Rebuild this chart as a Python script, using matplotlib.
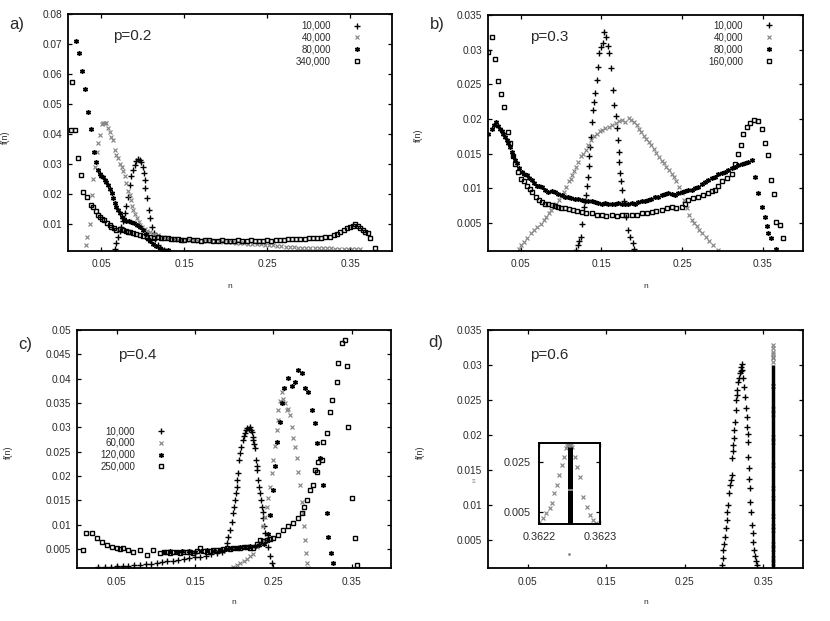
import matplotlib
matplotlib.use("Agg")
import matplotlib.pyplot as plt

plt.rcParams['font.family'] = ['Liberation Sans', 'DejaVu Sans']

# ---------------- data ----------------
x_tick_vals = [0.05, 0.15, 0.25, 0.35]
x_tick_labels = ["0.05", "0.15", "0.25", "0.35"]

# panel a (p=0.2)
a_labels = ["10,000", "40,000", "80,000", "340,000"]
a_yticks = [0.01, 0.02, 0.03, 0.04, 0.05, 0.06, 0.07, 0.08]
a_ylabels = ["0.01", "0.02", "0.03", "0.04", "0.05", "0.06", "0.07", "0.08"]
a_s1 = [(0.066,0.0015),(0.068,0.0035),(0.070,0.0057),(0.072,0.0075),(0.074,0.009),(0.076,0.011),
        (0.078,0.0136),(0.080,0.016),(0.082,0.019),(0.084,0.023),(0.086,0.026),(0.088,0.028),
        (0.090,0.0295),(0.092,0.031),(0.094,0.0318),(0.096,0.0312),(0.098,0.0305),(0.100,0.029),
        (0.101,0.027),(0.102,0.0245),(0.103,0.022),(0.105,0.0185),(0.107,0.0146),(0.109,0.0118),
        (0.111,0.009),(0.113,0.0068),(0.115,0.005),(0.118,0.003),(0.121,0.0018),(0.125,0.0011)]
a_s2 = [(0.0313,0.0029),(0.033,0.0055),(0.0362,0.0099),(0.0382,0.0196),(0.040,0.025),(0.0422,0.029),
        (0.0443,0.034),(0.046,0.037),(0.048,0.0397),(0.0507,0.0435),(0.052,0.0438),(0.054,0.0436),
        (0.0557,0.0436),(0.058,0.042),(0.0603,0.0408),(0.062,0.039),(0.0643,0.038),(0.0663,0.0347),
        (0.068,0.033),(0.070,0.032),(0.072,0.030),(0.0744,0.029),(0.076,0.0275),(0.078,0.026),
        (0.080,0.0235),(0.082,0.021),(0.084,0.0195),(0.0856,0.018),(0.087,0.016),(0.0884,0.0146),
        (0.090,0.0133),(0.0925,0.012),(0.095,0.0105),(0.0965,0.0096),(0.099,0.0088),(0.102,0.0082),
        (0.1046,0.0077),(0.108,0.0072),(0.113,0.0067),(0.118,0.0062),(0.1246,0.0057),(0.130,0.0052),
        (0.137,0.0048),(0.142,0.0047),(0.147,0.0047),(0.152,0.0046),(0.157,0.0045),(0.162,0.0045),
        (0.167,0.0044),(0.172,0.0043),(0.177,0.0043),(0.182,0.0042),(0.187,0.0041),(0.192,0.0041),
        (0.197,0.0040),(0.202,0.0039),(0.207,0.0038),(0.212,0.0037),(0.217,0.0036),(0.222,0.0035),
        (0.227,0.0034),(0.232,0.0033),(0.237,0.0032),(0.242,0.0031),(0.247,0.0030),(0.252,0.0029),
        (0.257,0.0028),(0.262,0.0026),(0.267,0.0025),(0.272,0.0023),(0.277,0.0022),(0.282,0.0021),
        (0.287,0.0020),(0.292,0.0020),(0.297,0.0019),(0.302,0.0019),(0.307,0.0019),(0.312,0.0018),
        (0.317,0.0018),(0.322,0.0018),(0.327,0.0018),(0.332,0.0017),(0.337,0.0017),(0.342,0.0017),
        (0.347,0.0017),(0.352,0.0016),(0.357,0.0016),(0.362,0.0016)]
a_s3 = [(0.0193,0.0712),(0.023,0.067),(0.026,0.061),(0.030,0.055),(0.0334,0.0473),(0.0374,0.0416),
        (0.0414,0.0341),(0.044,0.0307),(0.046,0.028),(0.048,0.0265),(0.050,0.026),(0.052,0.0255),
        (0.0543,0.0246),(0.056,0.0238),(0.0583,0.023),(0.060,0.0215),(0.0623,0.0202),(0.064,0.0185),
        (0.0663,0.0168),(0.068,0.0157),(0.070,0.0146),(0.072,0.0135),(0.0744,0.0123),(0.077,0.0115),
        (0.080,0.0108),(0.083,0.0108),(0.086,0.0106),(0.089,0.0101),(0.0925,0.0096),(0.096,0.0088),
        (0.1005,0.008),(0.104,0.0065),(0.1066,0.005),(0.109,0.0042),(0.112,0.0034),(0.116,0.0025),
        (0.120,0.0018),(0.125,0.0013),(0.130,0.0011)]
a_s4 = [(0.0133,0.0413),(0.0141,0.0575),(0.018,0.0413),(0.022,0.0319),(0.0253,0.0263),(0.028,0.0207),
        (0.032,0.019),(0.037,0.0163),(0.040,0.0155),(0.043,0.0144),(0.046,0.013),(0.048,0.0122),
        (0.051,0.0117),(0.053,0.0113),(0.057,0.0104),(0.060,0.0097),(0.062,0.009),(0.065,0.0085),
        (0.068,0.0079),(0.072,0.0081),(0.076,0.0079),(0.079,0.0076),(0.082,0.0074),(0.085,0.0071),
        (0.088,0.0068),(0.092,0.0065),(0.096,0.0062),(0.100,0.006),(0.105,0.0057),(0.109,0.0056),
        (0.113,0.0054),(0.118,0.0055),(0.122,0.0052),(0.126,0.0051),(0.130,0.0053),(0.134,0.0049),
        (0.138,0.0048),(0.142,0.0050),(0.146,0.0047),(0.150,0.0046),(0.155,0.0048),(0.160,0.0045),
        (0.165,0.0046),(0.170,0.0044),(0.175,0.0046),(0.180,0.0045),(0.185,0.0043),(0.190,0.0044),
        (0.195,0.0045),(0.200,0.0043),(0.205,0.0044),(0.210,0.0042),(0.215,0.0045),(0.220,0.0044),
        (0.225,0.0043),(0.230,0.0045),(0.235,0.0042),(0.240,0.0044),(0.245,0.0043),(0.250,0.0045),
        (0.255,0.0044),(0.260,0.0046),(0.265,0.0045),(0.270,0.0047),(0.275,0.0050),(0.280,0.0049),
        (0.285,0.0048),(0.290,0.0050),(0.295,0.0049),(0.300,0.0051),(0.305,0.0052),(0.310,0.0051),
        (0.315,0.0054),(0.320,0.0055),(0.325,0.0057),(0.330,0.0062),(0.334,0.0066),(0.338,0.0072),
        (0.342,0.0079),(0.346,0.0085),(0.350,0.0090),(0.353,0.0094),(0.356,0.0099),(0.359,0.0093),
        (0.362,0.0087),(0.365,0.0080),(0.368,0.0074),(0.371,0.0068),(0.374,0.0051),(0.380,0.0018)]

# panel b (p=0.3)
b_labels = ["10,000", "40,000", "80,000", "160,000"]
b_yticks = [0.005, 0.01, 0.015, 0.02, 0.025, 0.03, 0.035]
b_ylabels = ["0.005", "0.01", "0.015", "0.02", "0.025", "0.03", "0.035"]
b_s1 = [(0.1186,0.0011),(0.121,0.0018),(0.1228,0.0024),(0.1248,0.003),(0.1265,0.0048),(0.1281,0.0073),
        (0.1296,0.0082),(0.131,0.009),(0.1321,0.0104),(0.1331,0.0117),(0.1341,0.0132),(0.1351,0.0146),
        (0.1362,0.016),(0.1372,0.0174),(0.1386,0.0195),(0.14,0.0213),(0.1412,0.0225),(0.1425,0.0238),
        (0.1446,0.0256),(0.146,0.0275),(0.1474,0.0295),(0.1495,0.0304),(0.1516,0.0309),(0.1536,0.0326),
        (0.1556,0.0318),(0.1578,0.0305),(0.1598,0.0295),(0.1619,0.0273),(0.164,0.0242),(0.166,0.022),
        (0.1675,0.0205),(0.169,0.0187),(0.1702,0.017),(0.1714,0.0153),(0.1724,0.0138),(0.1734,0.0122),
        (0.1745,0.011),(0.1755,0.0098),(0.1784,0.0081),(0.1805,0.0059),(0.1826,0.004),(0.1854,0.003),
        (0.1888,0.0021),(0.1905,0.0012)]
b_s2 = [(0.0478,0.0013),(0.051,0.0018),(0.054,0.0023),(0.058,0.0029),(0.0623,0.0035),(0.066,0.004),
        (0.0705,0.0044),(0.075,0.0049),(0.0788,0.0054),(0.082,0.0059),(0.085,0.0064),(0.088,0.0068),
        (0.0912,0.0073),(0.094,0.0078),(0.0975,0.0083),(0.1005,0.0089),(0.1037,0.0095),(0.1068,0.0102),
        (0.1099,0.011),(0.112,0.0114),(0.114,0.0119),(0.116,0.0125),(0.1181,0.0131),(0.121,0.0138),
        (0.1243,0.0146),(0.1275,0.015),(0.1305,0.0155),(0.1335,0.0162),(0.1367,0.017),(0.1405,0.0175),
        (0.1449,0.0179),(0.148,0.0182),(0.1511,0.0184),(0.155,0.0187),(0.1594,0.0189),(0.1635,0.0192),
        (0.1677,0.0194),(0.1715,0.0197),(0.175,0.0199),(0.1795,0.0196),(0.1841,0.0201),(0.187,0.0199),
        (0.1903,0.0196),(0.1935,0.0191),(0.1965,0.0186),(0.1995,0.0181),(0.2027,0.0176),(0.2058,0.0171),
        (0.2089,0.0167),(0.212,0.0162),(0.2151,0.0157),(0.2182,0.0151),(0.2213,0.0145),(0.2245,0.014),
        (0.2275,0.0136),(0.2305,0.0131),(0.2338,0.0126),(0.237,0.0121),(0.24,0.0117),(0.243,0.011),
        (0.2462,0.0102),(0.2493,0.0093),(0.2524,0.0083),(0.2555,0.0072),(0.2586,0.0061),(0.2617,0.0055),
        (0.2648,0.005),(0.268,0.0045),(0.2711,0.004),(0.275,0.0035),(0.2793,0.003),(0.2835,0.0024),
        (0.2876,0.0018),(0.2938,0.0011)]
b_s3 = [(0.0102,0.0179),(0.0141,0.0186),(0.017,0.0191),(0.0195,0.0195),(0.022,0.019),(0.0244,0.0186),
        (0.0265,0.0182),(0.0286,0.0179),(0.0306,0.0174),(0.0327,0.0169),(0.0348,0.0165),(0.0368,0.016),
        (0.039,0.0153),(0.041,0.0146),(0.043,0.0141),(0.0451,0.0136),(0.048,0.013),(0.0513,0.0124),
        (0.0545,0.0121),(0.0575,0.0119),(0.0605,0.0115),(0.0637,0.0112),(0.0668,0.0108),(0.0699,0.0104),
        (0.073,0.0103),(0.0761,0.0102),(0.08,0.0098),(0.0843,0.0095),(0.0885,0.0096),(0.0926,0.0095),
        (0.0965,0.0092),(0.1008,0.009),(0.105,0.0088),(0.109,0.0088),(0.113,0.0086),(0.1173,0.0085),
        (0.1215,0.0084),(0.1255,0.0083),(0.13,0.0082),(0.1338,0.0081),(0.1379,0.0081),(0.142,0.008),
        (0.146,0.0079),(0.1503,0.0078),(0.1545,0.0079),(0.1585,0.0078),(0.1627,0.0077),(0.167,0.0078),
        (0.171,0.0079),(0.175,0.0078),(0.179,0.0077),(0.1832,0.0078),(0.1874,0.0079),(0.1915,0.0078),
        (0.1955,0.008),(0.1998,0.0081),(0.204,0.0082),(0.208,0.0083),(0.212,0.0085),(0.2162,0.0087),
        (0.2204,0.0088),(0.2245,0.009),(0.2288,0.0092),(0.2328,0.0093),(0.237,0.0092),(0.241,0.0091),
        (0.245,0.0093),(0.2493,0.0095),(0.2535,0.0096),(0.2575,0.0098),(0.2617,0.0098),(0.2658,0.01),
        (0.2699,0.0102),(0.274,0.0106),(0.2782,0.0109),(0.2823,0.0112),(0.2865,0.0115),(0.2906,0.0117),
        (0.2947,0.012),(0.2988,0.0122),(0.3029,0.0124),(0.307,0.0127),(0.3112,0.0129),(0.3153,0.0131),
        (0.3195,0.0133),(0.3236,0.0135),(0.3277,0.0136),(0.3318,0.0138),(0.336,0.0141),(0.3401,0.0117),
        (0.3441,0.0093),(0.3483,0.0073),(0.3524,0.0059),(0.3545,0.0045),(0.3565,0.0035),(0.3606,0.0028),
        (0.3668,0.0013)]
b_s4 = [(0.01,0.0297),(0.0141,0.0318),(0.0182,0.0287),(0.0223,0.0255),(0.0256,0.0236),(0.0297,0.0218),
        (0.0339,0.0181),(0.0368,0.0166),(0.04,0.0147),(0.0429,0.0135),(0.047,0.0123),(0.0499,0.0114),
        (0.0545,0.0111),(0.058,0.0104),(0.0615,0.0099),(0.0644,0.0094),(0.069,0.0088),(0.0731,0.0083),
        (0.077,0.008),(0.08,0.0078),(0.084,0.0077),(0.0883,0.0076),(0.0925,0.0074),(0.0966,0.0073),
        (0.1005,0.0072),(0.1048,0.0071),(0.11,0.007),(0.1152,0.0069),(0.12,0.0067),(0.1255,0.0066),
        (0.131,0.0065),(0.1379,0.0064),(0.144,0.0062),(0.1503,0.0061),(0.156,0.006),(0.1627,0.0061),
        (0.169,0.006),(0.175,0.0061),(0.181,0.0062),(0.1874,0.0061),(0.1935,0.0062),(0.1998,0.0064),
        (0.206,0.0065),(0.2122,0.0066),(0.218,0.0067),(0.2245,0.0069),(0.231,0.0071),(0.2369,0.0073),
        (0.243,0.0072),(0.2493,0.0073),(0.2535,0.0078),(0.2575,0.0083),(0.2635,0.0086),(0.2699,0.0088),
        (0.276,0.0091),(0.2823,0.0093),(0.2865,0.0096),(0.2906,0.0098),(0.2947,0.0104),(0.2988,0.0111),
        (0.305,0.0115),(0.3112,0.012),(0.3155,0.0135),(0.3194,0.0149),(0.3225,0.0163),(0.3256,0.0178),
        (0.3298,0.0188),(0.3338,0.0194),(0.3392,0.0199),(0.3441,0.0197),(0.3483,0.0185),(0.3525,0.0165),
        (0.3565,0.0148),(0.3598,0.0112),(0.3635,0.0092),(0.3668,0.0052),(0.3709,0.0047),(0.375,0.0029)]

# panel c (p=0.4)
c_labels = ["10,000", "60,000", "120,000", "250,000"]
c_yticks = [0.005, 0.01, 0.015, 0.02, 0.025, 0.03, 0.035, 0.04, 0.045, 0.05]
c_ylabels = ["0.005", "0.01", "0.015", "0.02", "0.025", "0.03", "0.035", "0.04", "0.045", "0.05"]
c_s1 = [(0.027,0.0012),(0.035,0.0013),(0.043,0.0013),(0.050,0.0014),(0.058,0.0014),(0.065,0.0015),
        (0.072,0.0016),(0.080,0.0017),(0.087,0.0018),(0.094,0.0019),(0.101,0.0021),(0.108,0.0022),
        (0.115,0.0024),(0.122,0.0026),(0.129,0.0028),(0.136,0.0030),(0.143,0.0032),(0.150,0.0033),
        (0.157,0.0034),(0.164,0.0036),(0.171,0.0039),(0.178,0.0042),(0.184,0.0044),
        (0.187,0.0048),(0.1905,0.0061),(0.1925,0.0075),(0.1947,0.0089),(0.1968,0.0105),(0.1989,0.0123),
        (0.2,0.0137),(0.2011,0.015),(0.2022,0.0165),(0.2032,0.0178),(0.204,0.0192),(0.2048,0.0205),
        (0.2066,0.0233),(0.2075,0.0248),(0.2083,0.026),(0.2109,0.0274),(0.2125,0.0282),(0.2138,0.0288),
        (0.2155,0.0294),(0.2168,0.0298),(0.2185,0.0296),(0.2202,0.0301),(0.2215,0.0295),(0.2224,0.0291),
        (0.2235,0.028),(0.2244,0.0274),(0.2255,0.0265),(0.2266,0.0257),(0.2279,0.0233),(0.2288,0.022),
        (0.2295,0.0212),(0.2308,0.0192),(0.232,0.0178),(0.233,0.0164),(0.2341,0.015),(0.2351,0.0137),
        (0.2362,0.0125),(0.2372,0.0113),(0.2383,0.0097),(0.2394,0.0082),(0.2415,0.0068),(0.2435,0.0054),
        (0.2455,0.0035),(0.2479,0.002)]
c_s2 = [(0.199,0.0013),(0.2035,0.0016),(0.2075,0.002),(0.212,0.0025),(0.216,0.003),(0.2205,0.0035),
        (0.2244,0.004),(0.2287,0.0054),(0.2329,0.0062),(0.2351,0.0069),(0.2372,0.0096),(0.2393,0.0115),
        (0.2415,0.0137),(0.2436,0.0155),(0.2457,0.0178),(0.2478,0.0205),(0.2499,0.0233),(0.252,0.0262),
        (0.2542,0.0294),(0.2553,0.0315),(0.2563,0.0336),(0.2585,0.0355),(0.2606,0.0373),(0.2627,0.0359),
        (0.2648,0.0350),(0.267,0.0336),(0.2691,0.0338),(0.2712,0.0325),(0.2733,0.0301),(0.2754,0.0277),
        (0.2776,0.026),(0.2797,0.0236),(0.2818,0.0209),(0.284,0.0181),(0.2861,0.0147),(0.2882,0.0123),
        (0.289,0.0096),(0.2903,0.0068),(0.2916,0.0041),(0.2933,0.0021),(0.2946,0.0011)]
c_s3 = [(0.11,0.0044),(0.118,0.0045),(0.126,0.0043),(0.134,0.0045),(0.142,0.0046),(0.150,0.0044),
        (0.158,0.0046),(0.166,0.0047),(0.174,0.0046),(0.182,0.0048),(0.19,0.005),(0.196,0.0051),
        (0.202,0.0052),(0.208,0.0053),(0.214,0.0054),(0.22,0.0055),(0.226,0.0056),(0.232,0.0058),
        (0.238,0.006),(0.243,0.008),(0.246,0.012),(0.249,0.017),(0.252,0.022),(0.255,0.027),
        (0.258,0.031),(0.261,0.035),(0.264,0.038),(0.269,0.0401),(0.2733,0.0385),(0.2776,0.0394),
        (0.2818,0.0418),(0.2861,0.0411),(0.2903,0.038),(0.2946,0.0373),(0.2988,0.0336),(0.3031,0.0308),
        (0.306,0.0267),(0.3094,0.0236),(0.3137,0.0181),(0.318,0.0123),(0.32,0.0075),(0.3235,0.0041),
        (0.3264,0.002)]
c_s4 = [(0.0077,0.0048),(0.0111,0.0082),(0.0183,0.0082),(0.0247,0.0072),(0.0311,0.0065),(0.0375,0.0058),
        (0.0439,0.0054),(0.0502,0.0051),(0.055,0.0049),(0.0587,0.0051),(0.065,0.0048),(0.0714,0.0044),
        (0.0799,0.0048),(0.0884,0.0038),(0.0969,0.0048),(0.1054,0.0041),(0.11,0.0043),(0.1139,0.0044),
        (0.118,0.0042),(0.1224,0.0044),(0.127,0.0043),(0.1309,0.0041),(0.135,0.0043),(0.1394,0.0044),
        (0.144,0.0043),(0.1479,0.0041),(0.152,0.0046),(0.1565,0.0051),(0.161,0.0045),(0.165,0.0044),
        (0.1695,0.0046),(0.1735,0.0048),(0.178,0.0047),(0.182,0.0048),(0.186,0.0049),(0.1905,0.0051),
        (0.195,0.005),(0.199,0.0051),(0.203,0.0052),(0.2075,0.0051),(0.212,0.0053),(0.216,0.0054),
        (0.22,0.0052),(0.2244,0.0051),(0.229,0.006),(0.2329,0.0068),(0.237,0.0066),(0.2415,0.0068),
        (0.246,0.007),(0.25,0.0072),(0.2564,0.0079),(0.2627,0.0089),(0.2691,0.0096),(0.2754,0.0103),
        (0.2818,0.0113),(0.2861,0.0123),(0.289,0.0137),(0.2925,0.015),(0.2967,0.0171),(0.3009,0.0181),
        (0.3031,0.0212),(0.3052,0.0208),(0.3073,0.0229),(0.3116,0.0233),(0.3137,0.027),(0.318,0.0288),
        (0.3222,0.0332),(0.3243,0.0356),(0.3307,0.0394),(0.3328,0.0432),(0.3371,0.0473),(0.3413,0.048),
        (0.3435,0.0425),(0.3456,0.0301),(0.3499,0.0154),(0.3541,0.0072),(0.3562,0.0017)]

# panel d (p=0.6)
d_yticks = b_yticks
d_ylabels = b_ylabels
d_s1 = [(0.297,0.0015),(0.298,0.0025),(0.299,0.0036),(0.300,0.0045),(0.3011,0.0055),(0.3022,0.0067),
        (0.3033,0.0079),(0.3043,0.009),(0.3053,0.01),(0.3066,0.0117),(0.3075,0.0129),(0.3086,0.0136),
        (0.3097,0.0143),(0.3104,0.0167),(0.3111,0.0177),(0.3117,0.0186),(0.3123,0.0196),(0.313,0.0207),
        (0.3139,0.0219),(0.3148,0.0236),(0.3152,0.025),(0.316,0.0257),(0.3168,0.0264),(0.3181,0.0276),
        (0.319,0.0282),(0.3202,0.0288),(0.321,0.0292),(0.3215,0.0297),(0.3224,0.0302),(0.323,0.0293),
        (0.3238,0.0282),(0.3253,0.0269),(0.3265,0.0255),(0.3279,0.0238),(0.3287,0.0226),(0.3296,0.0212),
        (0.3302,0.0201),(0.3308,0.019),(0.3308,0.0169),(0.3315,0.0153),(0.3321,0.0138),(0.333,0.0124),
        (0.333,0.0105),(0.3338,0.0091),(0.3351,0.0072),(0.3364,0.006),(0.3372,0.0048),(0.3381,0.0036),
        (0.3393,0.0027),(0.3405,0.002),(0.3415,0.0015)]
d_s2 = [(0.36220,0.0007),(0.362206,0.0024),(0.362211,0.0044),(0.362217,0.0064),(0.362221,0.0084),
        (0.362225,0.0124),(0.362229,0.0157),(0.362233,0.0197),(0.362237,0.0237),(0.362241,0.027),
        (0.362244,0.0304),(0.362246,0.0312),(0.362247,0.0324),(0.362249,0.0319),(0.36225,0.0328),
        (0.362252,0.0316),(0.362254,0.031),(0.362258,0.027),(0.362262,0.023),(0.362267,0.019),
        (0.362272,0.011),(0.362278,0.007),(0.362283,0.0037),(0.362289,0.0017),(0.362294,0.0007)]
d_bar_n = 0.36225
d_bar_main = [(0.001, 0.0300)]
d_bar_inset = [(0.0002, 0.0136), (0.0142, 0.0311)]
d_stray = [(0.1027, 0.0030)]
inset_xticks = [0.3622, 0.3623]
inset_xlabels = ["0.3622", "0.3623"]
inset_yticks = [0.005, 0.025]
inset_ylabels = ["0.005", "0.025"]

# ---------------- drawing ----------------
W, H = 830, 621
fig = plt.figure(figsize=(W / 100, H / 100), dpi=100)
TXT = '#2a2a2a'
GRAY = '#858585'

def axes_px(l, r, t, b):
    return fig.add_axes([l / W, 1 - b / H, (r - l) / W, (b - t) / H])

styles = [
    dict(marker='+', ms=3.9, mew=1.0, color='black'),
    dict(marker='x', ms=3.0, mew=0.85, color=GRAY),
    dict(marker=(6, 2, 0), ms=3.6, mew=1.0, color='black'),
    dict(marker='s', ms=3.4, mew=1.0, color='black', mfc='none'),
]

def series(ax, pts, k, label=None):
    xs = [p[0] for p in pts]
    ys = [p[1] for p in pts]
    return ax.plot(xs, ys, ls='none', label=label, **styles[k])[0]

def style(ax, xlim, ylim, yt, yl):
    ax.set_xlim(*xlim)
    ax.set_ylim(*ylim)
    ax.set_xticks(x_tick_vals)
    ax.set_xticklabels(x_tick_labels)
    ax.set_yticks(yt)
    ax.set_yticklabels(yl)
    ax.tick_params(direction='in', top=True, right=True, length=3.2, width=0.9,
                   labelsize=7.3, colors='black', labelcolor=TXT)
    ax.tick_params(axis='y', pad=4.5)
    ax.tick_params(axis='x', pad=6)
    for s in ax.spines.values():
        s.set_linewidth(1.3)
    ax.set_xlabel('n', fontsize=6, color=TXT)
    ax.set_ylabel('f(n)', fontsize=6.5, color=TXT)

def add_legend(ax, handles, x, y):
    ax.legend(handles=handles, loc='upper right', bbox_to_anchor=(x, y), frameon=False,
              markerfirst=False, numpoints=1, fontsize=7, handlelength=1.0,
              handletextpad=2.2, labelspacing=0.2, borderpad=0, borderaxespad=0,
              labelcolor=TXT)

# panel a
axa = axes_px(68.3, 391.7, 14.3, 250.7)
ha = [series(axa, s, k, lab) for k, (s, lab) in enumerate(zip([a_s1, a_s2, a_s3, a_s4], a_labels))]
style(axa, (0.01, 0.4), (0.001, 0.08), a_yticks, a_ylabels)
add_legend(axa, ha, 0.908, 0.972)
axa.xaxis.set_label_coords(0.5, -0.137)
axa.yaxis.set_label_coords(-0.180, 0.48)

# panel b
axb = axes_px(488.3, 803.3, 15, 250.7)
hb = [series(axb, s, k, lab) for k, (s, lab) in enumerate(zip([b_s1, b_s2, b_s3, b_s4], b_labels))]
style(axb, (0.01, 0.4), (0.001, 0.035), b_yticks, b_ylabels)
add_legend(axb, hb, 0.907, 0.975)
axb.xaxis.set_label_coords(0.5, -0.135)
axb.yaxis.set_label_coords(-0.207, 0.49)

# panel c
axc = axes_px(77.3, 391, 330, 568.3)
hc = [series(axc, s, k, lab) for k, (s, lab) in enumerate(zip([c_s1, c_s2, c_s3, c_s4], c_labels))]
style(axc, (0.0, 0.4), (0.001, 0.05), c_yticks, c_ylabels)
add_legend(axc, hc, 0.283, 0.597)
axc.xaxis.set_label_coords(0.5, -0.129)
axc.yaxis.set_label_coords(-0.205, 0.488)

# panel d
axd = axes_px(488.3, 802.7, 330, 568.3)
series(axd, d_s1, 0)
series(axd, d_s2, 1)
for lo, hi in d_bar_main:
    axd.vlines(d_bar_n, lo, hi, color='black', lw=2.5)
axd.plot([p[0] for p in d_stray], [p[1] for p in d_stray], ls='none', marker='.', ms=2, color=GRAY)
style(axd, (0.0, 0.4), (0.001, 0.035), d_yticks, d_ylabels)
axd.xaxis.set_label_coords(0.5, -0.129)
axd.yaxis.set_label_coords(-0.201, 0.488)

# inset in d
axi = axes_px(539.3, 600, 442.7, 524)
series(axi, d_s2, 1)
for lo, hi in d_bar_inset:
    axi.vlines(d_bar_n, lo, hi, color='black', lw=3.6)
axi.set_xlim(0.3622, 0.3623)
axi.set_ylim(0.0002, 0.0327)
axi.set_xticks(inset_xticks)
axi.set_xticklabels(inset_xlabels)
axi.set_yticks(inset_yticks)
axi.set_yticklabels(inset_ylabels)
axi.tick_params(direction='in', top=True, right=True, length=3, width=0.9,
                labelsize=7.8, labelcolor=TXT)
axi.tick_params(axis='x', pad=6)
axi.tick_params(axis='y', pad=6)
for s in axi.spines.values():
    s.set_linewidth(1.4)

# annotations
def ftext(x, y, s, **kw):
    fig.text(x / W, 1 - y / H, s, color=TXT, **kw)

ftext(113, 36, 'p=0.2', fontsize=11, va='center', ha='left')
ftext(530, 37, 'p=0.3', fontsize=11, va='center', ha='left')
ftext(118, 355, 'p=0.4', fontsize=11, va='center', ha='left')
ftext(530, 355, 'p=0.6', fontsize=11, va='center', ha='left')
ftext(17, 25, 'a)', fontsize=12, va='center', ha='center')
ftext(437, 25, 'b)', fontsize=12, va='center', ha='center')
ftext(25, 344, 'c)', fontsize=12, va='center', ha='center')
ftext(436, 343, 'd)', fontsize=12, va='center', ha='center')
ftext(473, 482, '\u2261', fontsize=4.5, va='center', ha='center', alpha=0.6)

fig.savefig('out.png', dpi=100)
